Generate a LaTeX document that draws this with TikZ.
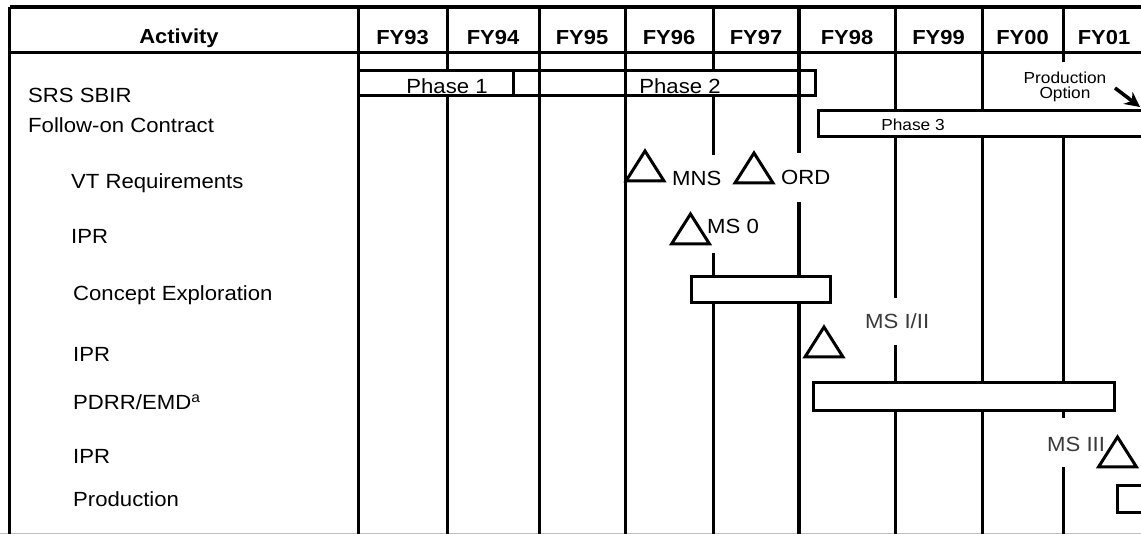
\documentclass[tikz,border=0pt]{standalone}
\usepackage{fontspec}
\setmainfont[FakeStretch=1.08]{Liberation Sans}
\usetikzlibrary{arrows.meta}
\definecolor{inkline}{HTML}{000000}
\definecolor{softtext}{HTML}{3A3A3A}
\definecolor{edgegray}{HTML}{BDBDBD}
\tikzset{
  gridline/.style={draw=inkline, line width=3pt},
  gridheavy/.style={gridline, line width=3.8pt},
  barbox/.style={draw=inkline, fill=white, line width=3pt},
  headtext/.style={anchor=base, inner sep=0pt, font=\fontsize{20.3}{24}\selectfont\bfseries},
  rowtext/.style={anchor=base west, inner sep=0pt, font=\fontsize{20.5}{24}\selectfont},
  bartext/.style={anchor=base, inner sep=0pt, font=\fontsize{20.5}{24}\selectfont},
  smalltext/.style={anchor=base, inner sep=0pt, font=\fontsize{16}{16}\selectfont},
  mstext/.style={rowtext},
  msgray/.style={rowtext, text=softtext},
  optarrow/.style={-{Stealth[length=15pt,width=15pt]}, draw=inkline, line width=3.6pt},
  milestone/.pic={
    \draw[draw=inkline, line width=3pt] (-19,0) -- (0,-30) -- (19,0) -- cycle;
  }
}

\begin{document}
\begin{tikzpicture}[x=1pt, y=-1pt]

\fill[white] (0,0) rectangle (1141,534);
\useasboundingbox (0,0) rectangle (1141,534);
\clip (0,0) rectangle (1141,534);

% Frame and header rule.
\draw[gridheavy] (9.5,7) -- (1160,7);
\draw[gridline] (9.5,53) -- (1160,53);
\draw[edgegray, line width=1pt] (0,533.5) -- (1141,533.5);

% Year columns (gaps left for the labels).
\foreach \x/\a/\b in {447/7/534, 539/7/534, 625/7/534, 713/7/155, 713/253/534,
    895/7/298, 895/345/534, 982/7/534, 1063/7/62, 1063/138/418, 1063/467/534} {
  \draw[gridline] (\x,\a) -- (\x,\b);
}
\foreach \x/\a/\b in {9.5/7/534, 358.5/7/534, 799/7/153, 799/202/534} {
  \draw[gridheavy] (\x,\a) -- (\x,\b);
}

% Header labels.
\node[headtext] (activity) at (179,44) {Activity};
\foreach \x/\yr in {402.5/FY93, 493/FY94, 582/FY95, 669/FY96, 756/FY97,
    847/FY98, 938.5/FY99, 1022.5/FY00, 1104/FY01} {
  \node[headtext] (\yr) at (\x,45) {\yr};
}

% Activity labels.
\node[rowtext] (sbir) at (28,103) {SRS SBIR};
\node[rowtext] (followon) at (28,133) {Follow-on Contract};
\node[rowtext] (vtreq) at (71,189) {VT Requirements};
\node[rowtext] (iprA) at (71,244) {IPR};
\node[rowtext] (concept) at (73,301) {Concept Exploration};
\node[rowtext] (iprB) at (73,362) {IPR};
\node[rowtext] (pdrr) at (73,410) {PDRR/EMD\textsuperscript{a}};
\node[rowtext] (iprC) at (73,464) {IPR};
\node[rowtext] (production) at (73,507) {Production};

% SBIR phases 1 and 2.
\draw[barbox] (358.5,71) rectangle (815,96);
\foreach \x in {513, 539, 625} {
  \draw[gridline] (\x,71) -- (\x,96);
}
\draw[gridheavy] (799,71) -- (799,96);
\node[bartext] (phaseA) at (447,94) {Phase 1};
\node[bartext] (phaseB) at (680,94) {Phase 2};

% Follow-on phase 3 and production option.
\draw[barbox] (818,111) rectangle (1160,137);
\node[smalltext] (phaseC) at (913,131) {Phase 3};
\node[smalltext] (prodopt) at (1065,84) {Production};
\node[smalltext] (option) at (1065,98.5) {Option};
\coordinate (optfrom) at (1115,88);
\coordinate (optto) at (1140,107);
\draw[optarrow] (optfrom) -- (optto);

% Program bars.
\draw[barbox] (691,277) rectangle (830,303);
\draw[barbox] (813,383) rectangle (1114,411);
\draw[barbox] (1117,485) rectangle (1160,512);

% Milestones.
\pic at (645,181) {milestone};
\node[mstext] (mns) at (672,186) {MNS};
\pic at (754,183) {milestone};
\node[mstext] (ord) at (781,185) {ORD};
\pic at (690.5,244) {milestone};
\node[mstext] (mszero) at (707,234) {MS 0};
\pic at (824,357) {milestone};
\node[msgray] (msone) at (865,329) {MS I/II};
\pic at (1117.5,467) {milestone};
\node[msgray] (msthree) at (1047,452) {MS III};

\end{tikzpicture}
\end{document}
